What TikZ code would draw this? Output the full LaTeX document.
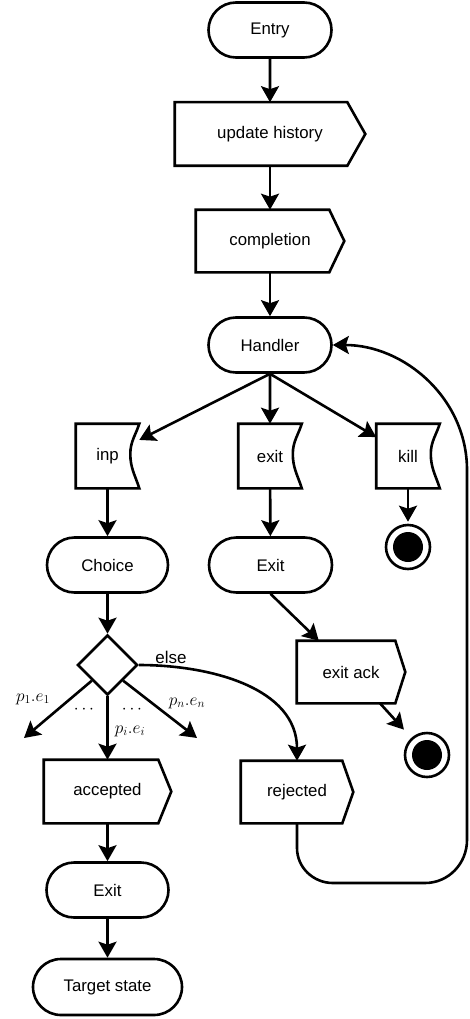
\documentclass[tikz,border=0pt]{standalone}
\usepackage[no-math]{fontspec}
\setmainfont{Liberation Sans}
\usetikzlibrary{shapes.geometric,shapes.misc,arrows.meta,calc}
\newcommand{\sendpath}[2]{\draw[line join=miter] (#1.north west) -- ($(#1.north east)+(-#2,0)$) -- (#1.east) -- ($(#1.south east)+(-#2,0)$) -- (#1.south west) -- cycle;}
\newcommand{\recvpath}[1]{\draw (#1.north east) to[out=-108,in=90] ($(#1.east)+(-9,-2)$) to[out=-90,in=108] (#1.south east) -- (#1.south west) -- (#1.north west) -- cycle;}
\begin{document}
\begin{tikzpicture}[x=1pt,y=-1pt,
  line width=2.6pt,
  every node/.style={font=\fontsize{16.8}{19}\selectfont},
  stadium/.style={draw, rounded rectangle, minimum height=55pt, inner sep=0pt, line width=2.6pt},
  sendbox/.style={minimum height=61pt, inner sep=0pt},
  recvbox/.style={minimum width=61pt, minimum height=62pt, inner sep=0pt},
  final/.style={circle, draw, line width=2.6pt, minimum size=44pt, inner sep=0pt},
  conn/.style={-{Stealth[length=16pt,width=18pt,inset=3pt]}, line width=2.6pt},
  lbl/.style={inner sep=0pt, font=\fontsize{17}{20}\selectfont}
]
\useasboundingbox (0,0) rectangle (469,1019);

\node[stadium, minimum width=123pt] (entry) at (270,30) {Entry};
\node[sendbox, minimum width=188pt] (uh) at (270,134) {update history};
\sendpath{uh}{18}
\node[sendbox, minimum width=146pt, minimum height=60pt] (comp) at (270,241) {completion};
\sendpath{comp}{15}
\node[stadium, minimum width=123pt] (h) at (270,345) {Handler};

\node[recvbox] (inp) at (107.5,456) {inp};
\recvpath{inp}
\node[recvbox] (ex) at (270,456) {exit};
\recvpath{ex}
\node[recvbox] (kill) at (408,456) {kill};
\recvpath{kill}

\node[stadium, minimum width=121pt] (ch) at (107.5,565) {Choice};
\node[stadium, minimum width=123pt] (ex1) at (270.5,565) {Exit};
\node[final] (f1) at (408,547) {};
\fill (f1) circle (15pt);

\node[diamond, draw, aspect=1, minimum width=60pt, minimum height=60pt, inner sep=0pt] (d) at (107.5,665) {};

\node[sendbox, minimum width=106pt, minimum height=60pt] (ea) at (351,672) {exit ack};
\sendpath{ea}{10}
\node[final] (f2) at (427,755) {};
\fill (f2) circle (15pt);

\node[sendbox, minimum width=125pt] (acc) at (107.5,791.5) {accepted};
\sendpath{acc}{13}
\node[sendbox, minimum width=110pt, minimum height=60pt] (rej) at (297,792) {rejected};
\sendpath{rej}{11}

\node[stadium, minimum width=122pt] (ex2) at (107.5,890) {Exit};
\node[stadium, minimum width=149pt, minimum height=56pt] (ts) at (107.5,987) {Target state};

\node[lbl] (le) at (171,657) {else};
\node[lbl] (lp1) at (33,699) {$p_1.e_1$};
\node[lbl] (lpn) at (187,703) {$p_n.e_n$};
\node[lbl] (lpi) at (130,731) {$p_i.e_i$};
\node[lbl] (dots1) at (84,710) {$\cdots$};
\node[lbl] (dots2) at (132,710) {$\cdots$};

\coordinate (b1) at (24,738);
\coordinate (bn) at (197,738);
\coordinate (eas) at ($(ea.south)+(29,0)$);

\draw[conn] (entry) -- (uh);
\draw[conn] (uh) -- (comp);
\draw[conn] (comp) -- (h);
\draw[conn] (h.south) -- (inp);
\draw[conn] (h) -- (ex);
\draw[conn] (h.south) -- (kill);
\draw[conn] (inp) -- (ch);
\draw[conn] (ex) -- (ex1);
\draw[conn, shorten >=2pt] (kill) -- (f1);
\draw[conn] (ch) -- (d);
\draw[conn] (ex1.south) -- (ea);
\draw[conn, shorten >=11pt] (eas) -- (f2);
\draw[conn] (d.south) -- (acc);
\draw[conn] ($(d.south)!0.5!(d.west)$) -- (b1);
\draw[conn] ($(d.south)!0.5!(d.east)$) -- (bn);
\draw[conn] (d.east) to[out=0,in=90] (rej.north);
\draw[conn] (acc) -- (ex2);
\draw[conn] (ex2) -- (ts);
\draw[conn] (rej.south) -- (297,848) to[out=-90,in=180] (333,883) -- (425,883) to[out=0,in=-90] (467,840) -- (467,470) to[out=90,in=0] (h.east);
\end{tikzpicture}
\end{document}
